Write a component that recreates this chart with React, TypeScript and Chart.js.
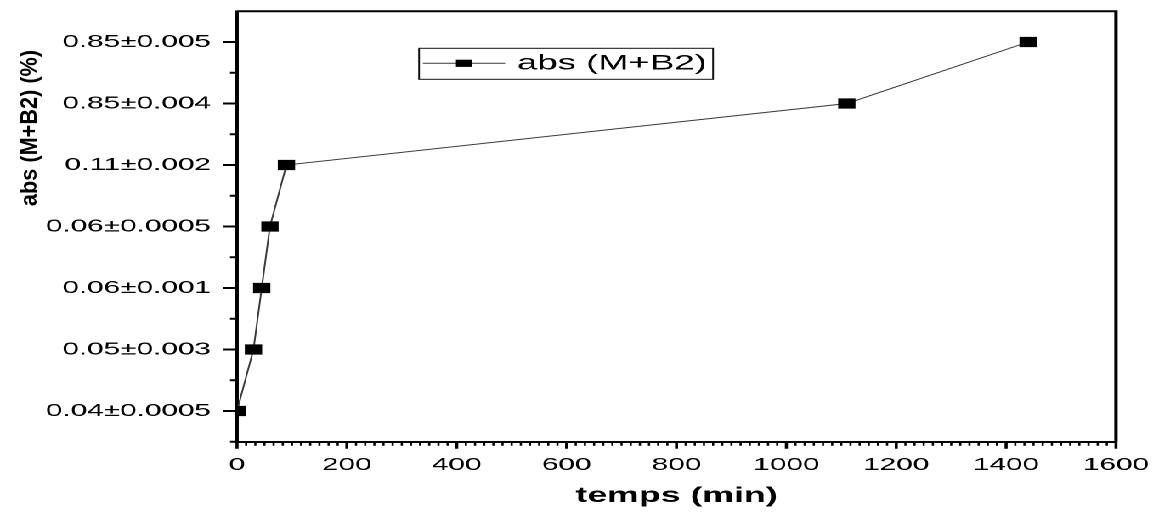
import React, { useEffect, useRef } from 'react';
import { Chart, registerables } from 'chart.js';

Chart.register(...registerables);

// ---- data ----
const SERIES_LABEL = 'abs (M+B2)';
const timeMin = [0, 30, 45, 60, 90, 1110, 1440];
// index of the y category (see yTickLabels)
const absLevel = [0, 1, 2, 3, 4, 5, 6];
const yTickLabels = [
  '0.04±0.0005',
  '0.05±0.003',
  '0.06±0.001',
  '0.06±0.0005',
  '0.11±0.002',
  '0.85±0.004',
  '0.85±0.005',
];
const xTickValues = [0, 200, 400, 600, 800, 1000, 1200, 1400, 1600];
const X_TITLE = 'temps (min)';
const Y_TITLE = 'abs (M+B2) (%)';

// ---- layout ----
const CW = 682;
const CH = 514;
const SX = 1159 / CW;
const FONT = "'Liberation Sans', Arial, Helvetica, sans-serif";

const zeroPad = (s: any) => {
  s.paddingTop = 0;
  s.paddingBottom = 0;
  s.paddingLeft = 0;
  s.paddingRight = 0;
};

const decor = {
  id: 'decor',
  afterDraw(chart: any) {
    const { ctx, chartArea: ca } = chart;
    const x = chart.scales.x;
    const y = chart.scales.y;
    ctx.save();
    ctx.strokeStyle = '#000';
    ctx.fillStyle = '#000';

    // frame (top + right)
    ctx.lineWidth = 2;
    ctx.beginPath();
    ctx.moveTo(ca.left, ca.top);
    ctx.lineTo(ca.right, ca.top);
    ctx.lineTo(ca.right, ca.bottom);
    ctx.stroke();

    // y ticks (major on categories, minor in between)
    ctx.lineWidth = 2;
    for (let v = y.min; v < y.max - 1e-6; v += 0.5) {
      const major = Math.abs(v - Math.round(v)) < 1e-6;
      const py = y.getPixelForValue(v);
      const len = major ? 8.2 : 4.1;
      ctx.beginPath();
      ctx.moveTo(ca.left - len, py);
      ctx.lineTo(ca.left, py);
      ctx.stroke();
    }

    // x ticks
    const minorPerMajor = 12;
    const step = (xTickValues[1] - xTickValues[0]) / minorPerMajor;
    for (let i = 0; ; i++) {
      const v = x.min + i * step;
      if (v > x.max + 1e-6) break;
      const major = i % minorPerMajor === 0;
      const px = x.getPixelForValue(v);
      ctx.lineWidth = major ? 1.8 : 1.3;
      ctx.beginPath();
      ctx.moveTo(px, ca.bottom);
      ctx.lineTo(px, ca.bottom + (major ? 7 : 4));
      ctx.stroke();
    }

    // legend
    const ds = chart.data.datasets[0];
    const bx0 = 246.6, bx1 = 419.6, by0 = 48.3, by1 = 79.3;
    const cy = 63.3;
    ctx.lineWidth = 1;
    ctx.strokeStyle = '#111';
    ctx.strokeRect(bx0, by0, bx1 - bx0, by1 - by0);
    ctx.strokeStyle = ds.borderColor;
    ctx.beginPath();
    ctx.moveTo(248.9, cy);
    ctx.lineTo(297.2, cy);
    ctx.stroke();
    ctx.fillStyle = '#000';
    ctx.fillRect(273 - 4.7, cy - 3.6, 9.4, 7.2);
    ctx.font = `21.5px ${FONT}`;
    ctx.textAlign = 'left';
    ctx.textBaseline = 'middle';
    ctx.fillText(ds.label, 304.2, cy + 0.5);

    // y title (condensed bold, rotated)
    ctx.translate(17.7, 128);
    ctx.rotate(-Math.PI / 2);
    ctx.scale(1.55, 1);
    ctx.font = `bold 14px ${FONT}`;
    ctx.textAlign = 'center';
    ctx.textBaseline = 'middle';
    ctx.fillText(Y_TITLE, 0, 0);

    ctx.restore();
  },
};

export default function App() {
  const ref = useRef<HTMLCanvasElement | null>(null);

  useEffect(() => {
    if (!ref.current) return;
    const chart = new Chart(ref.current, {
      type: 'line',
      data: {
        datasets: [
          {
            label: SERIES_LABEL,
            data: timeMin.map((t, i) => ({ x: t, y: absLevel[i] })),
            borderColor: '#3a3a3a',
            borderWidth: 1,
            pointStyle: 'rect',
            pointRadius: 6.5,
            pointBackgroundColor: '#000',
            pointBorderColor: '#000',
            pointBorderWidth: 1,
            tension: 0,
          },
        ],
      },
      options: {
        animation: false,
        responsive: false,
        maintainAspectRatio: false,
        devicePixelRatio: 2,
        layout: {
          autoPadding: false,
          padding: { top: 11.25, right: CW - 1116 / SX, left: 0, bottom: 0 },
        },
        plugins: {
          legend: { display: false },
          tooltip: { enabled: false },
        },
        scales: {
          x: {
            type: 'linear',
            min: 0,
            max: 1600,
            afterBuildTicks: (s: any) => {
              s.ticks = xTickValues.map((v) => ({ value: v }));
            },
            afterFit: (s: any) => {
              s.height = CH - 441.75;
              zeroPad(s);
            },
            grid: { display: false, drawTicks: false },
            border: { display: true, color: '#000', width: 2 },
            ticks: {
              padding: 13,
              color: '#000',
              maxRotation: 0,
              autoSkip: false,
              font: { family: FONT, size: 17.5 },
              callback: (v: any) => String(v),
            },
            title: {
              display: true,
              text: X_TITLE,
              color: '#000',
              font: { family: FONT, size: 21, weight: 'bold' },
              padding: { top: 0, bottom: 5 },
            },
          },
          y: {
            type: 'linear',
            min: -0.5,
            max: 6.5,
            afterBuildTicks: (s: any) => {
              s.ticks = yTickLabels.map((_, i) => ({ value: i }));
            },
            afterFit: (s: any) => {
              s.width = 237 / SX;
              zeroPad(s);
            },
            grid: { display: false, drawTicks: false },
            border: { display: true, color: '#000', width: 2 },
            ticks: {
              padding: 15.3,
              color: '#000',
              autoSkip: false,
              font: { family: FONT, size: 17.5 },
              callback: (v: any) => yTickLabels[v] ?? '',
            },
          },
        },
      },
      plugins: [decor],
    } as any);
    return () => chart.destroy();
  }, []);

  return (
    <div
      style={{
        position: 'fixed',
        left: 0,
        top: 0,
        width: CW,
        height: CH,
        transform: `scaleX(${SX})`,
        transformOrigin: '0 0',
        background: '#fff',
      }}
    >
      <canvas ref={ref} width={CW} height={CH} />
    </div>
  );
}
